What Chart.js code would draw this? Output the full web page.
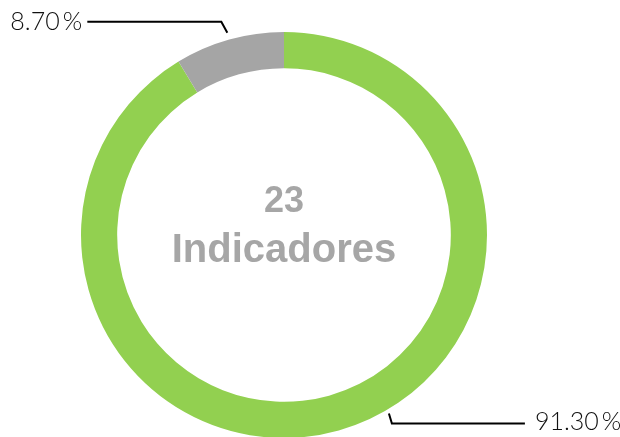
<!doctype html>
<html>
	<head>
		<title>Indicadores</title>
		<script src="https://cdn.jsdelivr.net/npm/chart.js@4.4.0/dist/chart.umd.min.js"></script>
		<style>
			body{margin:0;background:#fff;}
		</style>
	</head>
	<body>
		<canvas id="chart" width="620" height="437"></canvas>
		<script>
			// data
			const categories=['Cumplidos','No cumplidos'];
			const values=[91.30,8.70];
			const colors=['#92d050','#a5a5a5'];
			const centerLines=['23','Indicadores'];

			// leader lines + labels, anchored on each arc
			const labelPlugin={
				id:'labels',
				afterDraw(chart){
					const ctx=chart.ctx;
					const arcs=chart.getDatasetMeta(0).data;
					ctx.save();
					ctx.strokeStyle='#000';
					ctx.lineWidth=2;
					ctx.fillStyle='#111';
					ctx.font='300 25px Lato';
					ctx.textBaseline='middle';

					// gray slice: label up and left
					let a=arcs[1];
					let ang=(a.startAngle+a.endAngle)/2;
					let px=a.x+Math.cos(ang)*(a.outerRadius+7);
					let py=a.y+Math.sin(ang)*(a.outerRadius+7);
					ctx.beginPath();
					ctx.moveTo(px,py);
					ctx.lineTo(px-6,py-11);
					ctx.lineTo(px-140,py-11);
					ctx.stroke();
					ctx.textAlign='right';
					ctx.fillText(values[1].toFixed(2)+'\u2009%',px-145,py-11);

					// green slice: label down and right
					a=arcs[0];
					ang=a.startAngle+(a.endAngle-a.startAngle)*0.455;
					px=a.x+Math.cos(ang)*(a.outerRadius+4);
					py=a.y+Math.sin(ang)*(a.outerRadius+4);
					ctx.beginPath();
					ctx.moveTo(px,py);
					ctx.lineTo(px+3,py+10);
					ctx.lineTo(px+136,py+10);
					ctx.stroke();
					ctx.textAlign='left';
					ctx.fillText(values[0].toFixed(2)+'\u2009%',px+146,py+8);

					// center text
					ctx.fillStyle='#a6a6a6';
					ctx.textAlign='center';
					ctx.textBaseline='alphabetic';
					ctx.font='bold 36px "Liberation Sans"';
					ctx.fillText(centerLines[0],a.x,a.y-23);
					ctx.font='bold 40px "Liberation Sans"';
					ctx.fillText(centerLines[1],a.x,a.y+27);
					ctx.restore();
				}
			};

			const ctx=document.getElementById('chart').getContext('2d');
			const myChart=new Chart(ctx,{
				type:'doughnut',
				data:{
					labels:categories,
					datasets:[{
						data:values,
						backgroundColor:colors,
						borderWidth:0,
						radius:203,
						cutout:166
					}]
				},
				options:{
					responsive:false,
					animation:false,
					layout:{padding:{top:33,bottom:0,left:0,right:52}},
					plugins:{legend:{display:false},tooltip:{enabled:false}}
				},
				plugins:[labelPlugin]
			});
		</script>
	</body>
</html>
